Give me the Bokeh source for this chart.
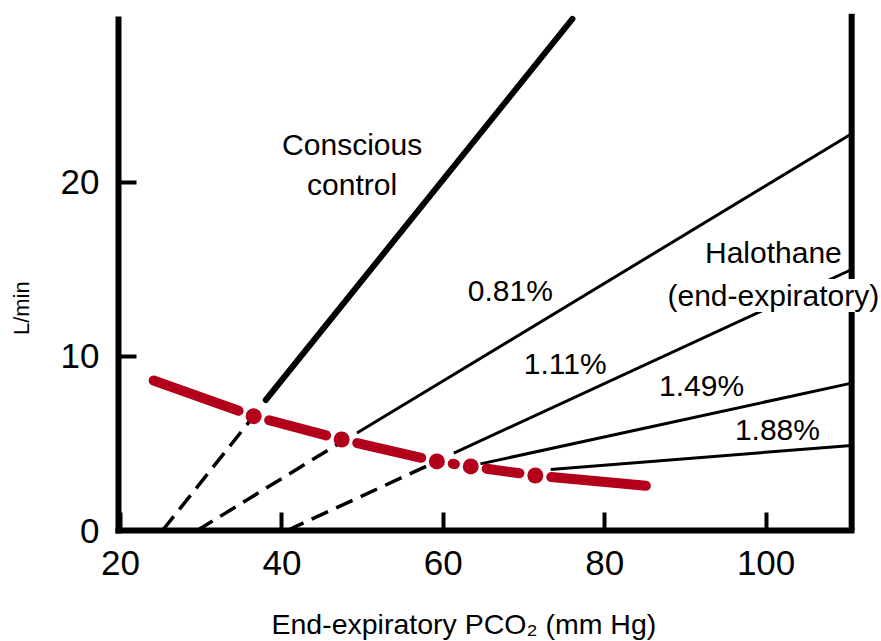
import math
from bokeh.plotting import figure
from bokeh.models import Label, FixedTicker, Range1d
from bokeh.embed import file_html
from bokeh.resources import INLINE

# ---------------- data ----------------
x_ticks = [20, 40, 60, 80, 100]
y_ticks = [0, 10, 20]

conscious_dash_x = [25.2, 36.5]
conscious_dash_y = [0.0, 6.57]
conscious_x = [38.0, 76.0]
conscious_y = [7.5, 29.4]

h081_dash_x = [29.5, 47.4]
h081_dash_y = [0.0, 5.1]
h081_x = [49.3, 110.6]
h081_y = [5.6, 22.8]

h111_dash_x = [40.65, 59.2]
h111_dash_y = [0.0, 3.97]
h111_x = [61.3, 110.6]
h111_y = [4.45, 15.0]

h149_x = [64.6, 110.6]
h149_y = [3.83, 8.47]

h188_x = [73.3, 110.6]
h188_y = [3.5, 4.89]

red_x = [24.1, 36.5, 47.4, 59.2, 63.4, 71.4, 85.1]
red_y = [8.62, 6.57, 5.23, 3.97, 3.68, 3.16, 2.57]

right_line_x = 110.6
right_line_top = 29.7
left_axis_top = 29.35

x_title = "End-expiratory PCO\u2082 (mm Hg)"
y_title = "L/min"

# ---------------- figure ----------------
FONT = "Liberation Sans"
RED = "#B3001B"
FW, FH = 762, 518
X0 = 19.75
X1 = X0 + FW / 8.07
Y0, Y1 = 0.0, 29.77
NBSP = "\u00a0"

p = figure(frame_width=FW, frame_height=FH,
           x_range=Range1d(X0, X1), y_range=Range1d(Y0, Y1),
           output_backend="svg", toolbar_location=None,
           min_border_left=118, min_border_right=0,
           min_border_top=12, min_border_bottom=111)
p.outline_line_color = None
p.xgrid.visible = False
p.ygrid.visible = False
p.background_fill_color = "white"
p.border_fill_color = "white"

for ax in (p.xaxis[0], p.yaxis[0]):
    ax.axis_line_width = 6
    ax.axis_line_color = "black"
    ax.axis_line_cap = "square"
    ax.major_tick_in = 18
    ax.major_tick_out = 0
    ax.major_tick_line_width = 4
    ax.major_tick_line_color = "black"
    ax.minor_tick_line_color = None
    ax.major_label_text_font = FONT
    ax.major_label_text_font_size = "35px"
    ax.major_label_text_color = "black"
    ax.axis_label_text_font = FONT
    ax.axis_label_text_font_style = "normal"
    ax.axis_label_text_color = "black"

p.xaxis[0].ticker = FixedTicker(ticks=x_ticks)
p.yaxis[0].ticker = FixedTicker(ticks=y_ticks)
p.xaxis[0].bounds = (X0, right_line_x)
p.yaxis[0].bounds = (0, left_axis_top)
p.xaxis[0].major_label_standoff = 20
p.yaxis[0].major_label_standoff = 19
p.xaxis[0].major_label_text_line_height = 0.8
p.xaxis[0].axis_label_text_line_height = 0.8

# axis titles; trailing no-break spaces shift the centred text as in the reference
p.xaxis[0].axis_label = x_title + NBSP * 9
p.xaxis[0].axis_label_text_font_size = "28.5px"
p.xaxis[0].axis_label_standoff = 30
p.yaxis[0].axis_label = y_title + NBSP * 12
p.yaxis[0].axis_label_text_font_size = "22px"
p.yaxis[0].axis_label_standoff = 24

# right frame line
p.segment(x0=[right_line_x], y0=[0], x1=[right_line_x], y1=[right_line_top],
          line_color="black", line_width=6)

# black lines
DASH = "18 9"
p.line(conscious_dash_x, conscious_dash_y, line_color="black", line_width=3.5, line_dash=DASH)
p.line(conscious_x, conscious_y, line_color="black", line_width=6, line_cap="round")
p.line(h081_dash_x, h081_dash_y, line_color="black", line_width=3.5, line_dash=DASH)
p.line(h081_x, h081_y, line_color="black", line_width=3)
p.line(h111_dash_x, h111_dash_y, line_color="black", line_width=3.5, line_dash=DASH)
p.line(h111_x, h111_y, line_color="black", line_width=3)
p.line(h149_x, h149_y, line_color="black", line_width=3)
p.line(h188_x, h188_y, line_color="black", line_width=3)

# red curve: pieces broken around the dots
sx = FW / (X1 - X0)
sy = FH / (Y1 - Y0)
GAP = 16.0
n = len(red_x)
dot_idx = set(range(1, n - 1))
xs, ys = [], []
for i in range(n - 1):
    ax_, ay_ = red_x[i], red_y[i]
    bx_, by_ = red_x[i + 1], red_y[i + 1]
    L = math.hypot((bx_ - ax_) * sx, (by_ - ay_) * sy)
    t0 = GAP / L if i in dot_idx else 0.0
    t1 = 1 - GAP / L if (i + 1) in dot_idx else 1.0
    if t1 <= t0:
        continue
    xs.append([ax_ + (bx_ - ax_) * t0, ax_ + (bx_ - ax_) * t1])
    ys.append([ay_ + (by_ - ay_) * t0, ay_ + (by_ - ay_) * t1])
p.multi_line(xs, ys, line_color=RED, line_width=10, line_cap="round")
p.scatter(red_x[1:-1], red_y[1:-1], size=16, color=RED, line_color=None)

# labels
def lab(x, y, text, size="30px", bg=None):
    kw = dict(x=x, y=y, text=text, text_font=FONT, text_font_size=size,
              text_align="center", text_baseline="middle", text_color="black")
    if bg:
        kw.update(background_fill_color=bg, background_fill_alpha=1.0)
    p.add_layout(Label(**kw))

lab(48.7, 22.2, "Conscious")
lab(48.7, 19.9, "control")
lab(68.3, 13.8, "0.81%")
lab(75.1, 9.6, "1.11%")
lab(92.0, 8.33, "1.49%")
lab(101.4, 5.8, "1.88%")
lab(100.9, 16.0, "Halothane", bg="white")
lab(100.9, 13.5, "(end-expiratory)", bg="white")

open("out.html", "w").write(file_html(p, INLINE))
